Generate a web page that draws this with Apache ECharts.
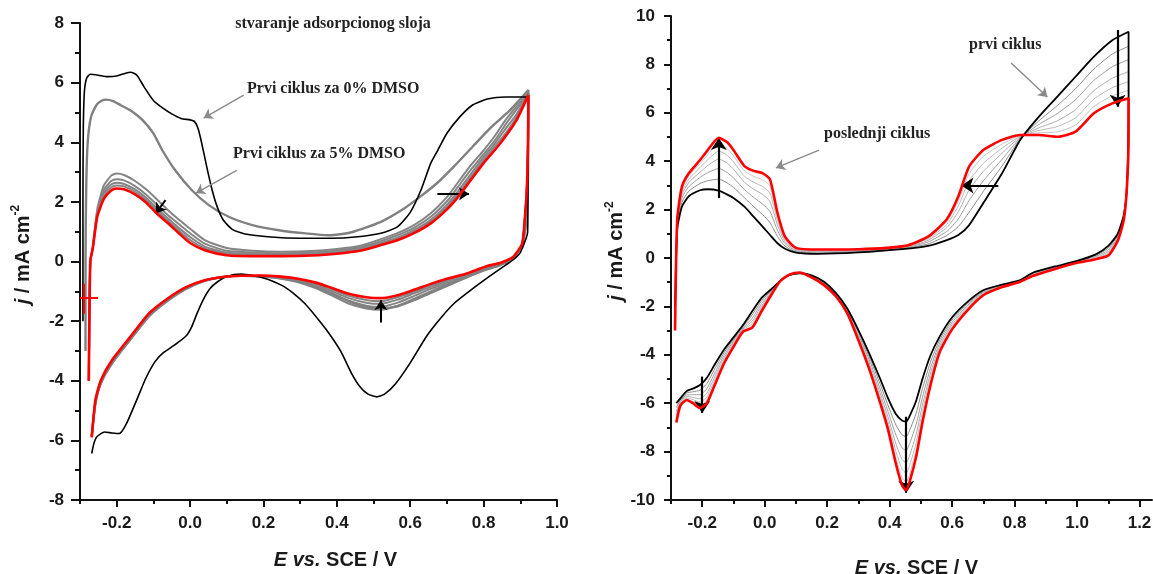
<!DOCTYPE html>
<html><head><meta charset="utf-8">
<script src="https://cdn.jsdelivr.net/npm/echarts@6/dist/echarts.min.js"></script>
<style>html,body{margin:0;padding:0;background:#fff}#c{width:1153px;height:574px}</style>
</head><body><div id="c"></div>
<script>
// ---------- LEFT PANEL DATA ----------
const xTicksL = [-0.2, 0, 0.2, 0.4, 0.6, 0.8, 1.0];
const xMinorL = [-0.3, -0.1, 0.1, 0.3, 0.5, 0.7, 0.9];
// first cycle 0% DMSO (black)
const black0 = [[-0.292,-2.0],[-0.292,2.0],[-0.291,4.5],[-0.288,5.7],[-0.282,6.15],[-0.272,6.28],[-0.25,6.25],[-0.225,6.2],[-0.2,6.22],[-0.18,6.3],[-0.162,6.35],[-0.145,6.25],[-0.125,5.85],[-0.1,5.4],[-0.075,5.15],[-0.05,4.95],[-0.025,4.8],[0.0,4.75],[0.012,4.7],[0.022,4.45],[0.032,3.95],[0.045,3.2],[0.058,2.5],[0.072,1.9],[0.09,1.4],[0.115,1.08],[0.15,0.92],[0.22,0.82],[0.3,0.78],[0.383,0.78],[0.45,0.82],[0.52,0.95],[0.565,1.16],[0.6,1.65],[0.629,2.39],[0.656,3.3],[0.675,3.73],[0.7,4.3],[0.735,4.85],[0.77,5.25],[0.81,5.45],[0.86,5.52],[0.92,5.52],[0.921,3.0],[0.92,1.0],[0.9,0.3],[0.88,0.05],[0.86,-0.12],[0.81,-0.55],[0.765,-0.96],[0.72,-1.4],[0.685,-1.87],[0.645,-2.5],[0.6,-3.4],[0.56,-4.1],[0.53,-4.45],[0.509,-4.54],[0.485,-4.45],[0.463,-4.2],[0.44,-3.75],[0.41,-3.0],[0.372,-2.3],[0.34,-1.8],[0.312,-1.4],[0.28,-1.05],[0.25,-0.8],[0.2,-0.55],[0.14,-0.42],[0.1,-0.5],[0.075,-0.68],[0.055,-0.9],[0.035,-1.3],[0.019,-1.74],[0.004,-2.2],[-0.011,-2.5],[-0.042,-2.8],[-0.072,-3.05],[-0.095,-3.35],[-0.12,-3.9],[-0.142,-4.54],[-0.173,-5.43],[-0.193,-5.77],[-0.213,-5.75],[-0.233,-5.72],[-0.254,-5.88],[-0.262,-6.1],[-0.268,-6.44]];
// first cycle 5% DMSO (thick grey)
const first5 = [[-0.285,-3.0],[-0.285,0.0],[-0.283,2.5],[-0.279,4.0],[-0.27,4.85],[-0.255,5.25],[-0.24,5.4],[-0.228,5.43],[-0.21,5.38],[-0.19,5.25],[-0.16,5.05],[-0.13,4.75],[-0.1,4.3],[-0.076,3.74],[-0.04,3.05],[0.005,2.39],[0.05,1.9],[0.105,1.5],[0.17,1.22],[0.242,1.05],[0.31,0.95],[0.378,0.88],[0.44,0.98],[0.52,1.33],[0.58,1.75],[0.63,2.2],[0.675,2.65],[0.72,3.2],[0.77,3.85],[0.82,4.5],[0.87,5.05],[0.922,5.75],[0.921,3.0],[0.916,1.3],[0.905,0.55],[0.88,0.12],[0.84,-0.15],[0.8,-0.3],[0.75,-0.55],[0.7,-0.82],[0.656,-1.05],[0.61,-1.3],[0.566,-1.5],[0.52,-1.58],[0.48,-1.52],[0.43,-1.32],[0.383,-1.06],[0.34,-0.85],[0.29,-0.66],[0.24,-0.55],[0.19,-0.5],[0.14,-0.48],[0.09,-0.52],[0.04,-0.65],[-0.011,-0.92],[-0.061,-1.32],[-0.112,-1.84],[-0.163,-2.62],[-0.213,-3.42],[-0.243,-4.08],[-0.258,-4.78],[-0.268,-5.85]];
// later cycles share potential grids (anodic / cathodic sweep)
const xUpL = [-0.276,-0.272,-0.265,-0.253,-0.235,-0.215,-0.2,-0.18,-0.15,-0.12,-0.09,-0.06,-0.03,0.0,0.04,0.1,0.17,0.25,0.33,0.4,0.47,0.52,0.565,0.61,0.656,0.7,0.73,0.76,0.8,0.83,0.86,0.89,0.922];
const xLoL = [0.921,0.918,0.912,0.905,0.88,0.845,0.81,0.75,0.7,0.656,0.61,0.566,0.52,0.48,0.43,0.383,0.34,0.29,0.24,0.19,0.14,0.09,0.04,-0.011,-0.061,-0.112,-0.163,-0.213,-0.243,-0.258,-0.268];
const cycAUpL = [-4,0.0,0.5,1.75,2.55,2.88,2.95,2.9,2.7,2.42,2.08,1.72,1.4,1.1,0.72,0.45,0.36,0.33,0.35,0.42,0.55,0.75,0.95,1.22,1.62,2.16,2.65,3.15,3.73,4.2,4.75,5.2,5.65];
const cycBUpL = [-4,0.0,0.48,1.65,2.4,2.7,2.76,2.72,2.53,2.25,1.9,1.55,1.25,0.95,0.6,0.36,0.3,0.28,0.3,0.37,0.5,0.68,0.88,1.13,1.5,2.02,2.5,3.0,3.6,4.05,4.6,5.1,5.62];
const cycCUpL = [-4,0.0,0.47,1.6,2.3,2.58,2.64,2.6,2.42,2.14,1.78,1.44,1.12,0.82,0.5,0.3,0.25,0.24,0.26,0.32,0.45,0.62,0.8,1.05,1.4,1.9,2.35,2.85,3.5,3.95,4.45,4.95,5.6];
const cycDUpL = [-4,0.0,0.46,1.55,2.2,2.48,2.55,2.52,2.34,2.06,1.7,1.36,1.03,0.72,0.44,0.25,0.21,0.21,0.23,0.29,0.42,0.58,0.75,1.0,1.34,1.82,2.26,2.75,3.4,3.85,4.3,4.85,5.59];
const lastUpL = [-4,0.0,0.45,1.5,2.1,2.38,2.45,2.42,2.25,1.98,1.6,1.28,0.94,0.62,0.38,0.21,0.18,0.18,0.2,0.26,0.38,0.55,0.71,0.95,1.28,1.75,2.16,2.65,3.3,3.73,4.2,4.75,5.58];
const cycALoL = [4.0,2.5,1.3,0.55,0.1,-0.12,-0.25,-0.55,-0.78,-1.0,-1.25,-1.48,-1.62,-1.58,-1.4,-1.12,-0.88,-0.68,-0.56,-0.5,-0.48,-0.52,-0.64,-0.9,-1.3,-1.82,-2.62,-3.42,-4.08,-4.75,-5.85];
const cycBLoL = [4.0,2.5,1.33,0.57,0.12,-0.1,-0.22,-0.51,-0.72,-0.92,-1.16,-1.38,-1.52,-1.48,-1.31,-1.05,-0.82,-0.64,-0.54,-0.49,-0.48,-0.52,-0.64,-0.89,-1.28,-1.8,-2.6,-3.39,-4.05,-4.72,-5.88];
const cycCLoL = [4.0,2.5,1.36,0.58,0.13,-0.08,-0.19,-0.47,-0.66,-0.85,-1.07,-1.28,-1.42,-1.38,-1.22,-0.98,-0.77,-0.61,-0.52,-0.48,-0.48,-0.52,-0.64,-0.88,-1.27,-1.78,-2.58,-3.36,-4.02,-4.7,-5.88];
const cycDLoL = [4.0,2.5,1.38,0.59,0.14,-0.06,-0.17,-0.44,-0.62,-0.8,-1.01,-1.2,-1.33,-1.29,-1.14,-0.92,-0.73,-0.59,-0.51,-0.48,-0.48,-0.52,-0.63,-0.87,-1.26,-1.76,-2.56,-3.34,-4.0,-4.68,-5.89];
const lastLoL = [4.0,2.5,1.4,0.6,0.15,-0.05,-0.15,-0.42,-0.58,-0.75,-0.95,-1.13,-1.23,-1.2,-1.07,-0.87,-0.7,-0.57,-0.5,-0.47,-0.48,-0.52,-0.63,-0.86,-1.24,-1.74,-2.53,-3.31,-3.98,-4.65,-5.9];
const arrowsL = [[[-0.067,2.06],[-0.094,1.61]],[[0.674,2.27],[0.76,2.27]],[[0.52,-2.05],[0.52,-1.3]]];
const pointersL = [[[0.146,5.58],[0.037,4.81]],[[0.127,3.06],[0.016,2.29]]];
const crossL = [[[-0.2999,-1.23],[-0.251,-1.23]],[[-0.289,-0.75],[-0.289,-1.75]]];

// ---------- RIGHT PANEL DATA ----------
const xTicksR = [-0.2, 0, 0.2, 0.4, 0.6, 0.8, 1.0, 1.2];
const xMinorR = [-0.3, -0.1, 0.1, 0.3, 0.5, 0.7, 0.9, 1.1];
const xUpR = [-0.287,-0.28,-0.265,-0.243,-0.207,-0.183,-0.147,-0.12,-0.1,-0.065,-0.035,-0.006,0.017,0.041,0.065,0.1,0.17,0.3,0.45,0.523,0.583,0.62,0.654,0.7,0.76,0.818,0.878,0.937,0.995,1.054,1.113,1.165];
const xDnR = [1.165,1.16,1.15,1.13,1.1,1.06,1.0,0.93,0.86,0.818,0.76,0.701,0.65,0.6,0.56,0.53,0.505,0.485,0.465,0.453,0.44,0.42,0.395,0.37,0.335,0.3,0.265,0.229,0.19,0.15,0.112,0.08,0.05,0.02,-0.01,-0.04,-0.07,-0.1,-0.13,-0.16,-0.185,-0.207,-0.23,-0.25,-0.27,-0.283];
const firstUpR = [-2,1.2,2.12,2.55,2.8,2.84,2.78,2.62,2.48,2.12,1.7,1.29,0.95,0.61,0.38,0.22,0.17,0.23,0.38,0.5,0.74,0.95,1.35,2.27,3.5,4.88,5.84,6.67,7.49,8.32,9.0,9.35];
const firstDnR = [6.5,3.0,1.8,1.0,0.5,0.15,-0.12,-0.35,-0.6,-0.91,-1.1,-1.32,-1.8,-2.45,-3.25,-4.05,-5.0,-5.9,-6.5,-6.76,-6.72,-6.45,-5.8,-5.0,-3.95,-2.98,-2.1,-1.46,-0.98,-0.72,-0.63,-0.7,-0.95,-1.3,-1.65,-2.2,-2.78,-3.28,-3.78,-4.4,-4.95,-5.25,-5.4,-5.5,-5.8,-6.0];
const lastUpR = [-3,1.6,2.95,3.5,4.05,4.45,4.97,4.78,4.46,3.8,3.6,3.5,3.25,1.86,0.88,0.42,0.35,0.36,0.5,0.88,1.6,2.55,3.77,4.46,4.88,5.08,5.08,5.01,5.22,5.98,6.39,6.6];
const lastDnR = [5.0,3.0,1.6,0.7,0.1,-0.05,-0.2,-0.45,-0.73,-0.98,-1.2,-1.53,-2.15,-2.95,-3.9,-5.3,-6.8,-8.2,-9.2,-9.6,-9.4,-8.5,-7.1,-6.0,-4.6,-3.4,-2.3,-1.6,-1.12,-0.8,-0.6,-0.68,-0.95,-1.55,-2.2,-2.88,-3.05,-3.67,-4.35,-5.25,-6.0,-6.2,-6.0,-5.87,-6.1,-6.8];
const midUpR = [
 [-2.5,1.29,2.30,2.76,3.08,3.19,3.26,3.1,2.92,2.49,2.12,1.78,1.46,0.89,0.49,0.26,0.21,0.26,0.41,0.58,0.93,1.3,1.88,2.75,3.8,4.92,5.67,6.3,6.99,7.81,8.43,8.75],
 [-2.5,1.37,2.47,2.95,3.33,3.52,3.7,3.53,3.31,2.83,2.5,2.22,1.92,1.14,0.59,0.3,0.25,0.28,0.43,0.66,1.1,1.62,2.37,3.19,4.08,4.96,5.52,5.97,6.54,7.34,7.9,8.2],
 [-2.5,1.44,2.62,3.12,3.55,3.81,4.09,3.92,3.67,3.13,2.84,2.62,2.33,1.36,0.68,0.34,0.28,0.31,0.45,0.73,1.26,1.91,2.8,3.58,4.33,5.0,5.38,5.67,6.13,6.92,7.43,7.7],
 [-2.5,1.5,2.74,3.26,3.74,4.05,4.42,4.24,3.97,3.38,3.13,2.95,2.68,1.55,0.76,0.37,0.31,0.33,0.47,0.79,1.39,2.15,3.17,3.91,4.54,5.03,5.27,5.43,5.79,6.57,7.04,7.29],
 [-2.5,1.55,2.85,3.39,3.9,4.26,4.71,4.52,4.22,3.6,3.37,3.23,2.97,1.71,0.82,0.4,0.33,0.34,0.49,0.83,1.5,2.36,3.48,4.2,4.71,5.06,5.17,5.21,5.49,6.26,6.7,6.93]
];
const midDnR = [
 [6.17,3.0,1.76,0.93,0.41,0.11,-0.14,-0.37,-0.63,-0.93,-1.12,-1.37,-1.88,-2.56,-3.39,-4.33,-5.4,-6.41,-7.09,-7.38,-7.31,-6.9,-6.09,-5.22,-4.09,-3.07,-2.14,-1.49,-1.01,-0.74,-0.62,-0.7,-0.95,-1.36,-1.77,-2.35,-2.84,-3.37,-3.91,-4.59,-5.18,-5.46,-5.53,-5.58,-5.87,-6.18],
 [5.87,3.0,1.72,0.87,0.33,0.07,-0.15,-0.39,-0.65,-0.94,-1.14,-1.41,-1.95,-2.66,-3.52,-4.58,-5.76,-6.87,-7.63,-7.95,-7.85,-7.31,-6.35,-5.42,-4.22,-3.16,-2.18,-1.52,-1.04,-0.75,-0.62,-0.69,-0.95,-1.41,-1.88,-2.49,-2.89,-3.44,-4.02,-4.76,-5.39,-5.65,-5.65,-5.66,-5.93,-6.34],
 [5.6,3.0,1.68,0.82,0.26,0.03,-0.17,-0.41,-0.68,-0.95,-1.16,-1.45,-2.01,-2.75,-3.64,-4.8,-6.08,-7.28,-8.12,-8.46,-8.33,-7.68,-6.58,-5.6,-4.34,-3.23,-2.22,-1.54,-1.06,-0.77,-0.61,-0.69,-0.95,-1.45,-1.98,-2.61,-2.94,-3.51,-4.12,-4.91,-5.58,-5.82,-5.76,-5.72,-5.98,-6.48],
 [5.38,3.0,1.65,0.78,0.2,0.0,-0.18,-0.43,-0.7,-0.96,-1.18,-1.48,-2.06,-2.83,-3.74,-4.99,-6.35,-7.63,-8.53,-8.89,-8.73,-7.99,-6.78,-5.75,-4.44,-3.3,-2.25,-1.57,-1.09,-0.78,-0.61,-0.69,-0.95,-1.49,-2.06,-2.71,-2.98,-3.57,-4.21,-5.04,-5.74,-5.96,-5.85,-5.78,-6.03,-6.6],
 [5.18,3.0,1.62,0.74,0.15,-0.03,-0.19,-0.44,-0.71,-0.97,-1.19,-1.5,-2.11,-2.89,-3.82,-5.15,-6.58,-7.92,-8.88,-9.26,-9.08,-8.25,-6.94,-5.88,-4.52,-3.35,-2.28,-1.58,-1.1,-0.79,-0.6,-0.68,-0.95,-1.52,-2.13,-2.8,-3.02,-3.62,-4.28,-5.15,-5.87,-6.09,-5.93,-5.83,-6.06,-6.7]
];
const arrowsR = [[[-0.147,2.48],[-0.147,4.96]],[[0.748,3.0],[0.63,3.0]],[[1.13,9.42],[1.13,6.25]],[[-0.2,-4.9],[-0.2,-6.4]],[[0.453,-6.56],[0.453,-9.7]]];
const pointersR = [[[0.789,8.06],[0.905,6.65]],[[0.174,4.46],[0.036,3.72]]];

// ---------- BUILD ----------
const SANS = 'Liberation Sans', SERIF = 'Liberation Serif';
const zip = (xs, ys) => xs.map((x, i) => [x, ys[i]]);
const loop = (xu, yu, xd, yd) => zip(xu, yu).concat(zip(xd, yd));
function curve(data, ax, color, width, z) {
  return {type:'line', data, xAxisIndex: ax === 0 ? 0 : 2, yAxisIndex: ax, symbol:'none', showSymbol:false,
    smooth:0.2, lineStyle:{color, width}, z, silent:true, animation:false};
}
function arrowSeries(list, ax, color, width, size) {
  return {type:'line', data:[], xAxisIndex: ax === 0 ? 0 : 2, yAxisIndex: ax, z: 20, silent:true,
    markLine:{silent:true, symbol: size ? ['none','arrow'] : ['none','none'], symbolSize: size || 0, animation:false,
      label:{show:false}, lineStyle:{color, width, type:'solid'}, emphasis:{disabled:true},
      data: list.map(p => [{coord:p[0]},{coord:p[1]}])}};
}
const tickStyle = {color:'#111', width:2};
function xAxes(grid, min, max, major, minor, shift, gap) {
  return [
    {type:'value', gridIndex:grid, min, max, position:'bottom',
     axisLine:{show:true, onZero:false, lineStyle:tickStyle},
     axisTick:{show:true, length:7, customValues:major, lineStyle:tickStyle},
     axisLabel:{customValues:major, formatter:v => v.toFixed(1), fontFamily:SANS, fontWeight:'bold', fontSize:17, color:'#1a1a1a', margin:15},
     splitLine:{show:false},
     name:'{i|E vs.}{n| SCE / V}', nameLocation:'middle', nameGap:gap,
     nameTextStyle:{padding:[0,0,0,shift], rich:{i:{fontFamily:SANS,fontWeight:'bold',fontStyle:'italic',fontSize:20,color:'#1a1a1a'}, n:{fontFamily:SANS,fontWeight:'bold',fontSize:20,color:'#1a1a1a'}}}},
    {type:'value', gridIndex:grid, min, max, position:'bottom',
     axisLine:{show:false, onZero:false}, axisTick:{show:true, length:4, customValues:minor, lineStyle:tickStyle},
     axisLabel:{show:false}, splitLine:{show:false}}
  ];
}
function yAxis(grid, min, max, gap, tl, ml) {
  return {type:'value', gridIndex:grid, min, max, interval:2,
    axisLine:{show:true, onZero:false, lineStyle:tickStyle},
    axisTick:{show:true, length:tl, lineStyle:tickStyle},
    minorTick:{show:true, splitNumber:2, length:ml, lineStyle:tickStyle},
    axisLabel:{fontFamily:SANS, fontWeight:'bold', fontSize:17, color:'#1a1a1a', margin:16},
    splitLine:{show:false}, minorSplitLine:{show:false},
    name:'{i|j}{n| / mA cm}{s|-2}', nameLocation:'middle', nameRotate:90, nameGap:gap,
    nameTextStyle:{padding:[0,0,0,14], rich:{i:{fontFamily:SANS,fontWeight:'bold',fontStyle:'italic',fontSize:20,lineHeight:26,color:'#1a1a1a'},
      n:{fontFamily:SANS,fontWeight:'bold',fontSize:20,lineHeight:26,color:'#1a1a1a'},
      s:{fontFamily:SANS,fontWeight:'bold',fontSize:12,lineHeight:14,verticalAlign:'top',color:'#1a1a1a'}}}};
}

const series = [];
// left panel
const greysL = [[cycAUpL,cycALoL],[cycBUpL,cycBLoL],[cycCUpL,cycCLoL],[cycDUpL,cycDLoL]];
greysL.forEach(g => series.push(curve(loop(xUpL, g[0], xLoL, g[1]), 0, '#858585', 2, 2)));
series.push(curve(first5, 0, '#808080', 2.4, 3));
series.push(curve(black0, 0, '#000000', 1.6, 4));
series.push(curve(loop(xUpL, lastUpL, xLoL, lastLoL), 0, '#ff0000', 2.6, 5));
series.push(arrowSeries(pointersL, 0, '#8a8a8a', 1.4, 9));
series.push(arrowSeries(arrowsL, 0, '#000', 2, 10));
series.push(arrowSeries(crossL, 0, '#ff0000', 2, 0));
// right panel
const greyColsR = ['#8c8c8c','#9e9e9e','#adadad','#bababa','#c6c6c6'];
midUpR.forEach((u, k) => series.push(curve(loop(xUpR, u, xDnR, midDnR[k]), 1, greyColsR[k], 1, 2)));
series.push(curve(loop(xUpR, firstUpR, xDnR, firstDnR), 1, '#000000', 1.8, 4));
series.push(curve(loop(xUpR, lastUpR, xDnR, lastDnR), 1, '#ff0000', 2.6, 5));
series.push(arrowSeries(pointersR, 1, '#8a8a8a', 1.4, 9));
series.push(arrowSeries(arrowsR, 1, '#000', 2.2, 12));

const txt = (t, x, y, size, align) => ({type:'text', x, y, silent:true,
  style:{text:t, font:'bold ' + size + 'px "' + SERIF + '"', fill:'#222', textAlign:align || 'left', textVerticalAlign:'middle'}});

const chart = echarts.init(document.getElementById('c'), null, {renderer:'canvas'});
chart.setOption({
  animation:false,
  backgroundColor:'#ffffff',
  grid:[{left:80, top:23, width:477, height:477, containLabel:false, outerBoundsMode:'none'},
        {left:671, top:16, width:481, height:484, containLabel:false, outerBoundsMode:'none'}],
  xAxis: xAxes(0, -0.3, 1.0, xTicksL, xMinorL, 34, 50).concat(xAxes(1, -0.3, 1.24, xTicksR, xMinorR, 10, 58)),
  yAxis: [yAxis(0, -8, 8, 44, 9, 5), yAxis(1, -10, 10, 35, 7, 4)],
  series,
  graphic:[
    txt('stvaranje adsorpcionog sloja', 333, 24, 16, 'center'),
    txt('Prvi ciklus za 0% DMSO', 247, 89, 16),
    txt('Prvi ciklus za 5% DMSO', 233, 154, 16),
    txt('prvi ciklus', 969, 45, 16),
    txt('poslednji ciklus', 824, 134, 16)
  ]
});
</script></body></html>
